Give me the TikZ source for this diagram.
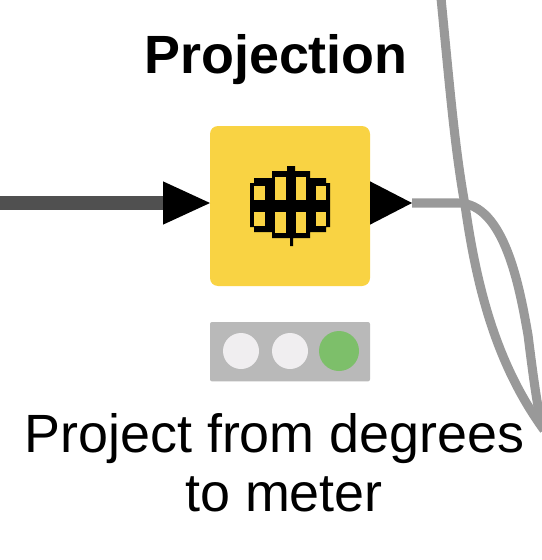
\documentclass[tikz,border=0pt]{standalone}
\usepackage{fontspec}
\setmainfont{Liberation Sans}
\usetikzlibrary{shapes.geometric}
\definecolor{nodeyellow}{HTML}{F9D343}
\definecolor{statusgray}{HTML}{B9B9B9}
\definecolor{lampoff}{HTML}{F0EEF0}
\definecolor{lampgreen}{HTML}{7DBF6A}
\definecolor{wiredark}{HTML}{505050}
\definecolor{wiregray}{HTML}{999999}
\tikzset{
  x=0.75pt,y=-0.75pt,
  nodebox/.style={fill=nodeyellow,rounded corners=6pt,minimum width=120pt,minimum height=120pt,inner sep=0pt,draw=none},
  statusbar/.style={fill=statusgray,rounded corners=1.5pt,minimum width=120pt,minimum height=44.5pt,inner sep=0pt,draw=none},
  lamp/.style={circle,inner sep=0pt,minimum size=27pt,fill=lampoff,draw=none},
  porttip/.style={isosceles triangle,isosceles triangle stretches,shape border rotate=0,fill=black,inner sep=0pt,outer sep=0pt,minimum width=32.5pt,draw=none},
  titletext/.style={font=\bfseries\fontsize{40.4pt}{48pt}\selectfont,anchor=base,inner sep=0pt},
  labeltext/.style={font=\fontsize{40.4pt}{48pt}\selectfont,anchor=base,inner sep=0pt},
  datawire/.style={wiredark,line width=10pt},
  flowwire/.style={wiregray,line width=6.8pt},
  iconcell/.style={fill=nodeyellow,draw=none}
}
\begin{document}
\begin{tikzpicture}
\useasboundingbox (0,0) rectangle (542,560);
\coordinate (wirein) at (0,203);
\coordinate (passtop) at (441,-2);
\coordinate (passend) at (544,430);
\coordinate (flowend) at (542,427);

\node[nodebox] (box) at (290,206) {};
\node[porttip,minimum height=35.25pt,anchor=apex] (inport) at (210,203) {};
\node[porttip,minimum height=31.5pt,anchor=apex] (outport) at (412,203) {};
\node[statusbar] (status) at (290,351.7) {};
\node[lamp] (lampa) at (241,351) {};
\node[lamp] (lampb) at (290,351) {};
\node[lamp,fill=lampgreen,minimum size=30pt] (lampc) at (339,351) {};

\draw[datawire] (wirein) -- (inport.west);
\draw[flowwire] (passtop) .. controls (450,90) and (455,150) .. (465,205)
   .. controls (477,290) and (497,365) .. (passend);
\draw[flowwire] (outport.apex) -- (458,203)
   .. controls (505,203) and (520,290) .. (528,335)
   .. controls (533,375) and (537,405) .. (flowend);

% icon: stepped black disc with yellow cells
\fill[black] (250,183) -- (254,183) -- (254,178) -- (272,178) -- (272,171) -- (287,171) -- (287,166) -- (295,166) -- (295,171) -- (310,171) -- (310,178) -- (326,178) -- (326,183) -- (330,183)
  -- (330,227) -- (326,227) -- (326,232) -- (310,232) -- (310,238) -- (293,238) -- (293,246) -- (290,246) -- (290,238) -- (272,238) -- (272,232) -- (254,232) -- (254,227) -- (250,227) -- cycle;
\fill[iconcell] (254,186) rectangle (265,200);
\fill[iconcell] (275,177) rectangle (286,200);
\fill[iconcell] (296,177) rectangle (306,200);
\fill[iconcell] (316,186) rectangle (326,200);
\fill[iconcell] (254,212) rectangle (265,226);
\fill[iconcell] (275,212) rectangle (286,233);
\fill[iconcell] (296,212) rectangle (306,233);
\fill[iconcell] (316,212) rectangle (326,226);

\node[titletext] (title) at (276,74) {Projection};
\node[labeltext] (lineone) at (274.5,452) {Project from degrees};
\node[labeltext] (linetwo) at (284,511) {to meter};
\end{tikzpicture}
\end{document}
